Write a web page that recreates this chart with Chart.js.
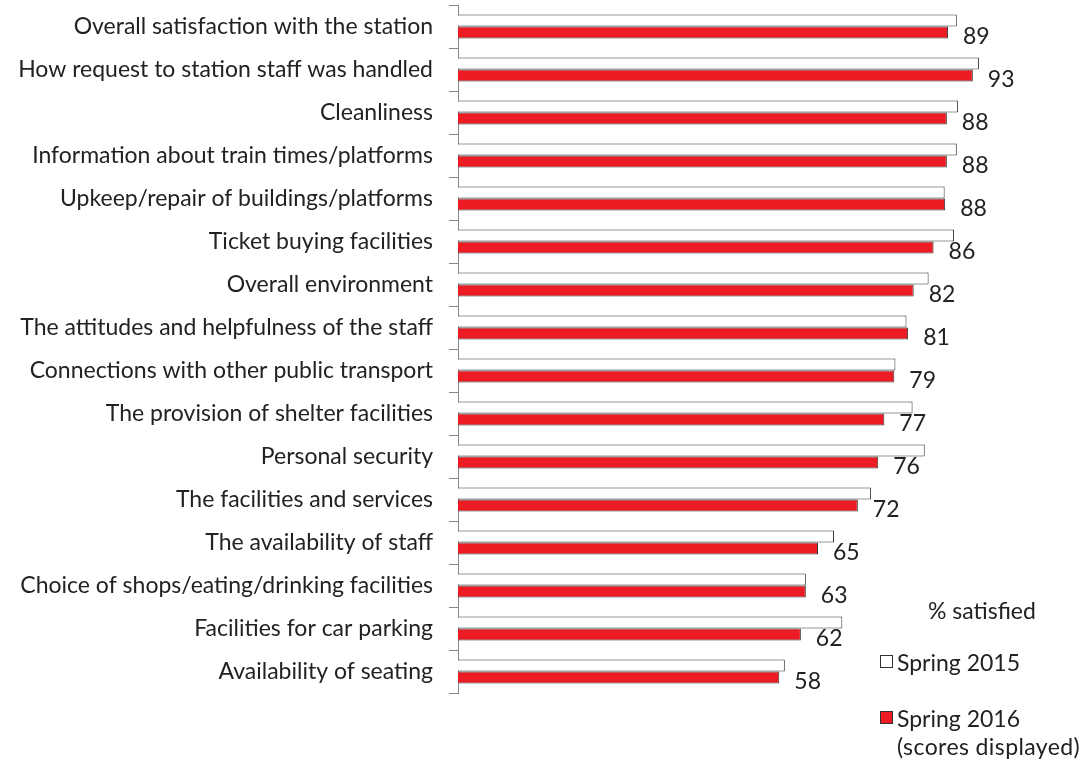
<!DOCTYPE html>
<html>
<head>
<meta charset="utf-8">
<script src="https://cdn.jsdelivr.net/npm/chart.js@4.4.1/dist/chart.umd.min.js"></script>
<style>
  html, body { margin: 0; padding: 0; background: #fff; }
  #wrap { position: relative; width: 1088px; height: 761px; }
  .lg { position: absolute; font-family: Lato, sans-serif; font-size: 23px; color: #222; white-space: nowrap; line-height: 28px; }
  .box { position: absolute; width: 11px; height: 11px; border: 1px solid #333; }
</style>
</head>
<body>
<div id="wrap">
  <canvas id="chart" width="1088" height="761"></canvas>
  <div class="lg" style="left:928px; top:596px;">% satisfied</div>
  <div class="box" style="left:880px; top:655px; background:#fff;"></div>
  <div class="lg" style="left:897px; top:648px;">Spring 2015</div>
  <div class="box" style="left:880px; top:711px; background:#ed1c24;"></div>
  <div class="lg" style="left:897px; top:704px;">Spring 2016</div>
  <div class="lg" style="left:897px; top:732px; letter-spacing:0.4px;">(scores displayed)</div>
</div>
<script>
var categories = [
  "Overall satisfaction with the station",
  "How request to station staff was handled",
  "Cleanliness",
  "Information about train times/platforms",
  "Upkeep/repair of buildings/platforms",
  "Ticket buying facilities",
  "Overall environment",
  "The attitudes and helpfulness of the staff",
  "Connections with other public transport",
  "The provision of shelter facilities",
  "Personal security",
  "The facilities and services",
  "The availability of staff",
  "Choice of shops/eating/drinking facilities",
  "Facilities for car parking",
  "Availability of seating"
];
var spring2015 = [90.2, 94.2, 90.4, 90.2, 88.0, 89.7, 85.1, 81.1, 79.1, 82.2, 84.4, 74.7, 68.0, 62.9, 69.5, 59.1];
var spring2016 = [88.6, 93.1, 88.4, 88.4, 88.1, 86.0, 82.4, 81.4, 78.9, 77.1, 76.0, 72.3, 65.1, 62.9, 62.0, 58.1];

// scores next to the red bars
var scoreLabels = {
  id: "scoreLabels",
  afterDatasetsDraw: function (chart) {
    var ctx = chart.ctx;
    var meta = chart.getDatasetMeta(1);
    ctx.save();
    ctx.font = "23px Lato";
    ctx.fillStyle = "#222";
    ctx.textAlign = "left";
    ctx.textBaseline = "middle";
    meta.data.forEach(function (bar, i) {
      ctx.fillText(Math.round(spring2016[i]), bar.x + 15, bar.y + 4);
    });
    ctx.restore();
  }
};

new Chart(document.getElementById("chart"), {
  type: "bar",
  data: {
    labels: categories,
    datasets: [
      {
        label: "Spring 2015",
        data: spring2015,
        backgroundColor: "#ffffff",
        borderColor: "#333333",
        borderWidth: 1,
        categoryPercentage: 0.56,
        barPercentage: 1.0
      },
      {
        label: "Spring 2016 (scores displayed)",
        data: spring2016,
        backgroundColor: "#ed1c24",
        borderColor: "#333333",
        borderWidth: 1,
        categoryPercentage: 0.56,
        barPercentage: 1.0
      }
    ]
  },
  options: {
    indexAxis: "y",
    responsive: false,
    animation: false,
    layout: { padding: { top: 5, right: 77, bottom: 68, left: 0 } },
    plugins: {
      legend: { display: false },
      tooltip: { enabled: false }
    },
    scales: {
      x: { display: false, min: 0, max: 100 },
      y: {
        afterFit: function (scale) {
          scale.width = 458;
          scale.paddingTop = 0;
          scale.paddingBottom = 0;
        },
        grid: { drawOnChartArea: false, color: "#888", tickLength: 9 },
        border: { color: "#888" },
        ticks: { color: "#222", font: { family: "Lato", size: 23 }, padding: 16 }
      }
    }
  },
  plugins: [scoreLabels]
});
</script>
</body>
</html>
